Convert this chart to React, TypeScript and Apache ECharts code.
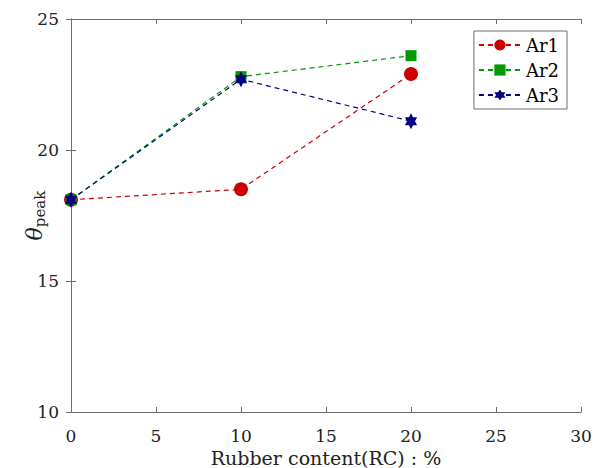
import React, { useEffect, useRef } from "react";
import * as echarts from "echarts";

const rubberContent = [0, 10, 20];
const ar1 = [18.1, 18.5, 22.9];
const ar2 = [18.1, 22.8, 23.6];
const ar3 = [18.1, 22.7, 21.1];
const seriesNames = ["Ar1", "Ar2", "Ar3"];

const HEXAGRAM =
  "path://M100,0 L128.87,50 L186.6,50 L157.7,100 L186.6,150 L128.87,150 L100,200 L71.13,150 L13.4,150 L42.3,100 L13.4,50 L71.13,50 Z";

const FONT = "DejaVu Serif";
const AXIS_COLOR = "#6e6e6e";

export default function App() {
  const ref = useRef<HTMLDivElement>(null);
  useEffect(() => {
    if (!ref.current) return;
    const chart = echarts.init(ref.current, null, { renderer: "svg" });
    const mk = (vals: number[]) => rubberContent.map((x, i) => [x, vals[i]]);
    const axisCommon = {
      axisLine: { show: true, lineStyle: { color: AXIS_COLOR, width: 1 } },
      axisTick: { show: true, inside: true, length: 5, lineStyle: { color: AXIS_COLOR } },
      splitLine: { show: false },
    };
    chart.setOption({
      animation: false,
      backgroundColor: "#ffffff",
      textStyle: { fontFamily: FONT },
      grid: {
        left: 71,
        right: 13,
        top: 19,
        bottom: 56,
        containLabel: false,
        outerBoundsMode: "none",
      },
      legend: {
        orient: "vertical",
        right: 27,
        top: 31,
        data: seriesNames,
        backgroundColor: "#ffffff",
        borderColor: AXIS_COLOR,
        borderWidth: 1,
        borderRadius: 0,
        padding: [5, 8, 5, 4],
        itemWidth: 42,
        itemHeight: 14,
        itemGap: 7,
        textStyle: { fontFamily: FONT, fontSize: 18, color: "#000" },
      },
      xAxis: [
        {
          type: "value",
          min: 0,
          max: 30,
          interval: 5,
          position: "bottom",
          name: "Rubber content(RC) : %",
          nameLocation: "middle",
          nameGap: 36,
          nameMoveOverlap: false,
          nameTextStyle: { fontFamily: FONT, fontSize: 19, color: "#222" },
          axisLabel: { fontFamily: FONT, fontSize: 17, color: "#222", margin: 15 },
          ...axisCommon,
        },
        {
          type: "value",
          min: 0,
          max: 30,
          interval: 5,
          position: "top",
          axisLabel: { show: false },
          ...axisCommon,
        },
      ],
      yAxis: [
        {
          type: "value",
          min: 10,
          max: 25,
          interval: 5,
          position: "left",
          name: "{t|θ}{s|peak}",
          nameLocation: "middle",
          nameGap: 24,
          nameMoveOverlap: false,
          nameTextStyle: {
            fontFamily: FONT,
            color: "#222",
            rich: {
              t: { fontFamily: FONT, fontStyle: "italic", fontSize: 22, color: "#222" },
              s: { fontFamily: FONT, fontSize: 15, color: "#222", padding: [10, 0, 0, 0] },
            },
          },
          axisLabel: { fontFamily: FONT, fontSize: 17, color: "#222", margin: 12 },
          ...axisCommon,
        },
        {
          type: "value",
          min: 10,
          max: 25,
          interval: 5,
          position: "right",
          axisLabel: { show: false },
          ...axisCommon,
        },
      ],
      series: [
        {
          name: "Ar1",
          type: "line",
          data: mk(ar1),
          symbol: "circle",
          symbolSize: 14,
          lineStyle: { color: "#cc0000", width: 1.2, type: [5, 4] },
          itemStyle: { color: "#cc0000" },
        },
        {
          name: "Ar2",
          type: "line",
          data: mk(ar2),
          symbol: "rect",
          symbolSize: 11,
          lineStyle: { color: "#009900", width: 1.2, type: [5, 4] },
          itemStyle: { color: "#009900" },
        },
        {
          name: "Ar3",
          type: "line",
          data: mk(ar3),
          symbol: HEXAGRAM,
          symbolSize: [14, 16],
          symbolKeepAspect: true,
          lineStyle: { color: "#000080", width: 1.2, type: [5, 4] },
          itemStyle: { color: "#000080" },
        },
      ],
    });
    return () => chart.dispose();
  }, []);
  return (
    <div
      ref={ref}
      style={{ position: "fixed", left: 0, top: 0, width: 594, height: 468, background: "#fff" }}
    />
  );
}
